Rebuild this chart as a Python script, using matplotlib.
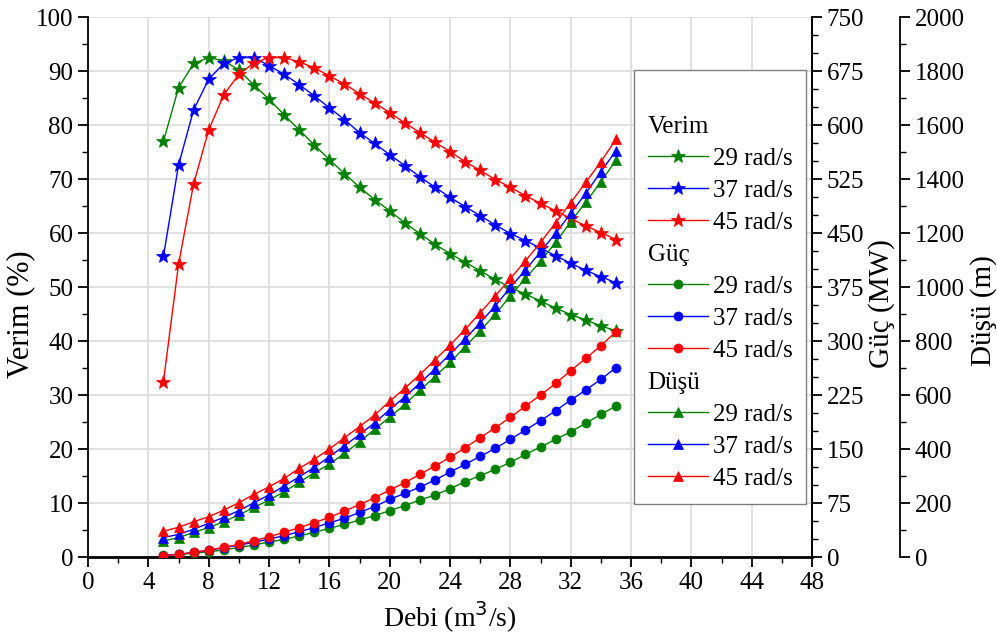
import matplotlib
matplotlib.use("Agg")
import matplotlib.pyplot as plt
from matplotlib.text import Text

plt.rcParams['font.family'] = ['Liberation Serif', 'DejaVu Serif']
plt.rcParams['font.size'] = 18

# Debi (m3/s)
debi = [5, 6, 7, 8, 9, 10, 11, 12, 13, 14, 15, 16, 17, 18, 19, 20,
        21, 22, 23, 24, 25, 26, 27, 28, 29, 30, 31, 32, 33, 34, 35]

# Verim (%)
verim_29 = [77.0, 86.9, 91.4, 92.5, 91.9, 90.2, 87.4, 84.8, 81.9, 79.1, 76.3, 73.6, 71.0, 68.5, 66.2,
            64.1, 61.9, 59.9, 57.9, 56.2, 54.6, 53.0, 51.4, 49.9, 48.7, 47.4, 46.1, 44.9, 43.9, 42.8, 41.9]
verim_37 = [55.7, 72.6, 82.8, 88.5, 91.4, 92.5, 92.5, 91.0, 89.4, 87.5, 85.4, 83.2, 81.0, 78.6, 76.6,
            74.5, 72.5, 70.4, 68.5, 66.6, 64.9, 63.2, 61.5, 59.9, 58.6, 57.2, 55.8, 54.4, 53.1, 51.9, 50.8]
verim_45 = [32.5, 54.2, 69.1, 79.1, 85.6, 89.4, 91.5, 92.5, 92.5, 91.7, 90.6, 89.1, 87.6, 85.8, 84.1,
            82.3, 80.4, 78.6, 76.8, 75.1, 73.2, 71.6, 69.9, 68.5, 66.9, 65.5, 64.1, 62.7, 61.3, 60.1, 58.8]

# Guc (MW)
guc_29 = [2.3, 3.7, 5.1, 7.4, 9.7, 13.4, 16.7, 20.8, 24.5, 29.2, 34.3, 39.8, 45.4, 51.4, 57.4,
          64.4, 71.3, 79.2, 86.1, 94.9, 104.6, 113.0, 121.8, 131.5, 142.6, 152.8, 163.5, 174.0, 185.7, 198.2, 209.7]
guc_37 = [2.0, 3.8, 6.3, 9.3, 12.9, 16.7, 20.4, 25.0, 29.6, 35.2, 40.7, 47.7, 53.7, 62.1, 69.9,
          80.1, 88.4, 97.2, 106.9, 118.0, 128.7, 139.8, 150.9, 163.5, 176.4, 189.4, 203.2, 218.0, 231.9, 246.8, 263.0]
guc_45 = [1.8, 3.8, 6.5, 9.7, 13.4, 17.6, 22.6, 28.2, 34.3, 40.7, 47.7, 55.1, 63.9, 72.7, 82.4,
          93.0, 103.2, 114.8, 126.4, 138.5, 151.8, 165.7, 179.6, 194.0, 209.7, 225.0, 241.2, 258.8, 276.0, 293.5, 313.0]

# Dusu (m)
dusu_29 = [60, 72, 91, 109, 131, 156, 184, 211, 242, 277, 312, 344, 384, 427, 473,
           518, 565, 618, 668, 721, 779, 838, 899, 967, 1032, 1096, 1165, 1242, 1314, 1390, 1470]
dusu_37 = [72, 84, 103, 125, 147, 172, 201, 230, 263, 297, 332, 372, 412, 454, 497,
           546, 593, 644, 696, 752, 807, 868, 930, 999, 1063, 1131, 1199, 1273, 1347, 1427, 1505]
dusu_45 = [96, 110, 131, 149, 174, 201, 232, 260, 291, 328, 362, 400, 442, 483, 526,
           577, 625, 676, 730, 785, 843, 905, 967, 1032, 1097, 1165, 1238, 1312, 1388, 1464, 1547]

hizlar = ['29 rad/s', '37 rad/s', '45 rad/s']
renkler = ['#008000', '#0000ff', '#ff0000']

fig = plt.figure(figsize=(9.97, 6.41), dpi=100)
ax = fig.add_axes([0.0883, 0.131, 0.7262, 0.8424])
ax2 = ax.twinx()
ax3 = ax.twinx()
ax3.spines['right'].set_position(('axes', 1.1215))

for a in (ax, ax2, ax3):
    a.spines['top'].set_visible(False)
    a.tick_params(which='major', direction='out', length=7, width=1.3, labelsize=18)
    a.tick_params(which='minor', direction='out', length=4, width=1.0)
for a in (ax2, ax3):
    a.spines['left'].set_visible(False)
    a.spines['bottom'].set_visible(False)
for s in ax.spines.values():
    s.set_linewidth(1.3)
ax2.spines['right'].set_linewidth(1.3)
ax3.spines['right'].set_linewidth(1.3)
ax.spines['bottom'].set_linewidth(2)

h_verim, h_guc, h_dusu = [], [], []
for yv, c, lab in zip([verim_29, verim_37, verim_45], renkler, hizlar):
    l, = ax.plot(debi, yv, color=c, lw=1, marker='*', ms=10, mec=c, mew=0.5, label=lab)
    h_verim.append(l)
for yv, c, lab in zip([guc_29, guc_37, guc_45], renkler, hizlar):
    l, = ax2.plot(debi, yv, color=c, lw=1, marker='o', ms=6.5, mec=c, mew=0.5, label=lab)
    h_guc.append(l)
for yv, c, lab in zip([dusu_29, dusu_37, dusu_45], renkler, hizlar):
    l, = ax3.plot(debi, yv, color=c, lw=1, marker='^', ms=7, mec=c, mew=0.5, label=lab)
    h_dusu.append(l)

ax.set_xlim(0, 48)
ax.set_ylim(0, 100)
ax2.set_ylim(0, 750)
ax3.set_ylim(0, 2000)
ax.set_xticks(range(0, 49, 4))
ax.set_xticks(range(0, 49, 2), minor=True)
ax.set_yticks(range(0, 101, 10))
ax.set_yticks(range(0, 101, 5), minor=True)
ax2.set_yticks(range(0, 751, 75))
ax2.set_yticks(range(0, 751, 25), minor=True)
ax3.set_yticks(range(0, 2001, 200))
ax3.set_yticks(range(0, 2001, 100), minor=True)

ax.grid(True, which='major', color='#dcdcdc', lw=1.2)
ax.set_axisbelow(True)

ax.set_xlabel('Debi (m$^3$/s)', fontsize=20, labelpad=4)
ax.set_ylabel('Verim (%)', fontsize=22)
ax2.set_ylabel('Güç (MW)', fontsize=21)
ax3.set_ylabel('Düşü (m)', fontsize=21)
ax.yaxis.set_label_coords(-0.073, 0.45)
ax2.yaxis.set_label_coords(1.077, 0.47)
ax3.yaxis.set_label_coords(1.218, 0.457)


class Baslik:
    def __init__(self, metin):
        self.metin = metin


class BaslikHandler:
    def legend_artist(self, legend, orig_handle, fontsize, handlebox):
        t = Text(0, 0, orig_handle.metin, fontsize=fontsize, va='baseline', ha='left')
        handlebox.add_artist(t)
        return t


handles = [Baslik(''), Baslik('Verim')] + h_verim + [Baslik('Güç')] + h_guc + [Baslik('Düşü')] + h_dusu
labels = ['', ''] + hizlar + [''] + hizlar + [''] + hizlar
leg = ax3.legend(handles, labels, handler_map={Baslik: BaslikHandler()},
                 loc='upper left', bbox_to_anchor=(0.754, 0.902), bbox_transform=ax.transAxes,
                 borderaxespad=0, fontsize=18, handlelength=2.4, handletextpad=0.2,
                 labelspacing=0.38, borderpad=0.55, fancybox=False, framealpha=1,
                 edgecolor='#808080')
leg.get_frame().set_linewidth(1)

fig.savefig('out.png', dpi=100)
